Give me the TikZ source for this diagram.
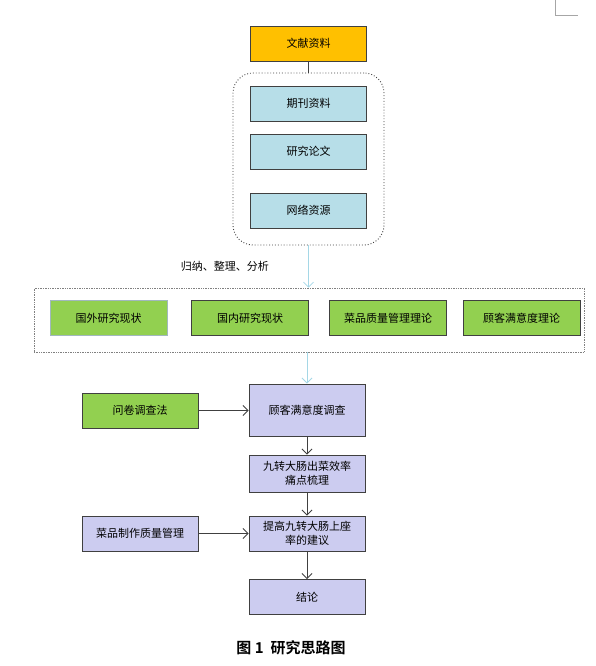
\documentclass[tikz,border=0pt]{standalone}
\usepackage{fontspec}
\setmainfont{Noto Sans CJK SC}
\newfontfamily\capfont{Noto Sans CJK SC Bold}
\usepackage{tikz}
\usetikzlibrary{positioning, calc, arrows.meta}

\definecolor{wxorange}{RGB}{255,192,0}
\definecolor{qkcyan}{RGB}{183,222,232}
\definecolor{xzgreen}{RGB}{146,208,80}
\definecolor{dcpurple}{RGB}{204,204,240}
\definecolor{lineblue}{RGB}{165,215,230}
\definecolor{boxgray}{RGB}{64,64,64}

\tikzset{
  stepbox/.style={draw=boxgray, line width=0.9pt, minimum width=116pt, minimum height=35pt,
    align=center, inner sep=1pt, font=\fontsize{11}{14}\selectfont},
  cyanbox/.style={stepbox, fill=qkcyan},
  greenbox/.style={stepbox, fill=xzgreen},
  purplebox/.style={stepbox, fill=dcpurple},
  darkarrow/.style={draw=boxgray, line width=0.8pt, -{Straight Barb[length=5pt,width=10pt]}},
  lightarrow/.style={draw=lineblue, line width=0.8pt, -{Straight Barb[length=5pt,width=10pt]}}
}

\begin{document}
\begin{tikzpicture}[x=1pt, y=-1pt]
    \useasboundingbox (0,0) rectangle (595,666);

    % literature sources
    \node[stepbox, fill=wxorange] (wenxian) at (308.5,43.5) {文献资料};
    \node[draw=boxgray, dotted, line width=0.9pt, rounded corners=20pt,
          minimum width=151pt, minimum height=172pt] (pool) at (308.5,159) {};
    \node[cyanbox] (qikan) at (308.5,103.5) {期刊资料};
    \node[cyanbox] (lunwen) at (308.5,151.5) {研究论文};
    \node[cyanbox] (wangluo) at (308.5,210.5) {网络资源};
    \draw[boxgray, line width=0.8pt] (wenxian.south) -- (wenxian.south |- pool.north);

    % theory row
    \node[draw=gray, densely dotted, line width=0.7pt, minimum width=550pt,
          minimum height=64pt] (lilun) at (309,320) {};
    \node[greenbox, draw=qkcyan!60!gray, minimum width=117pt] (guowai) at (108.5,318) {国外研究现状};
    \node[greenbox, minimum width=117pt] (guonei) at (250,318) {国内研究现状};
    \node[greenbox, minimum width=117pt] (caipin) at (388,318) {菜品质量管理理论};
    \node[greenbox, minimum width=117pt] (guke) at (521.5,318) {顾客满意度理论};
    \draw[lightarrow] (pool.south) -- (pool.south |- lilun.north)
        node[pos=0.5, left=36pt, font=\fontsize{11}{14}\selectfont] {归纳、整理、分析};

    % research steps
    \node[purplebox, minimum height=52pt] (diaocha) at (307,410) {顾客满意度调查};
    \node[purplebox, minimum height=37pt] (tongdian) at (307,473.5) {九转大肠出菜效率\\痛点梳理};
    \node[purplebox] (jianyi) at (307,533.5) {提高九转大肠上座\\率的建议};
    \node[purplebox] (jielun) at (307,597) {结论};
    \node[greenbox] (wenjuan) at (140,410.5) {问卷调查法};
    \node[purplebox] (zhiliang) at (140,533.5) {菜品制作质量管理};

    \draw[lightarrow] (lilun.south -| diaocha.north) -- (diaocha.north);
    \draw[darkarrow] (wenjuan) -- (diaocha.west |- wenjuan);
    \draw[darkarrow] (diaocha) -- (tongdian);
    \draw[darkarrow] (tongdian) -- (jianyi);
    \draw[darkarrow] (zhiliang) -- (jianyi);
    \draw[darkarrow] (jianyi) -- (jielun);

    \node[font=\capfont\fontsize{15}{18}\selectfont] (caption) at (291,648) {图 1\ \ 研究思路图};

    % page corner mark
    \draw[gray!70, line width=0.8pt] (555,0) -- (555,15) -- (578,15);
\end{tikzpicture}
\end{document}
